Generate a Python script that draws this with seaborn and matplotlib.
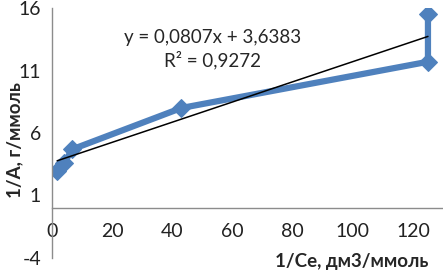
import numpy as np
import pandas as pd
import matplotlib
matplotlib.use("Agg")
import matplotlib.pyplot as plt
import seaborn as sns

# данные изотермы в координатах 1/A от 1/Ce
inv_ce = [1.7, 4.0, 6.8, 43.0, 125.0, 125.0]
inv_a = [3.0, 3.6, 4.7, 8.0, 11.7, 15.5]
slope = 0.0807
intercept = 3.6383
y_ticks = [-4, 1, 6, 11, 16]
x_ticks = [0, 20, 40, 60, 80, 100, 120]

sns.set_theme(style="white")
plt.rcParams["font.family"] = ["Lato", "DejaVu Sans"]
plt.rcParams["axes.unicode_minus"] = False

df = pd.DataFrame({"x": inv_ce, "y": inv_a})
trend_x = np.array([min(inv_ce), max(inv_ce)])
trend = pd.DataFrame({"x": trend_x, "y": slope * trend_x + intercept})

fig = plt.figure(figsize=(4.43, 2.74), dpi=100)
ax = fig.add_axes([52 / 443, 16 / 274, 391 / 443, 250 / 274])

sns.lineplot(data=df, x="x", y="y", sort=False, estimator=None, ax=ax,
             color="#4f81bd", linewidth=4.5, marker="D", markersize=9,
             markeredgecolor="#4f81bd")
sns.lineplot(data=trend, x="x", y="y", sort=False, estimator=None, ax=ax,
             color="black", linewidth=1.1)

ax.set_xlim(0, 130)
ax.set_ylim(-4, 16)
ax.set_xticks(x_ticks)
ax.set_yticks(y_ticks)
ax.tick_params(axis="both", labelsize=14, colors="#222222", length=5,
               width=1, direction="out")
ax.tick_params(axis="both", color="#8c8c8c")
ax.tick_params(axis="x", pad=6)
ax.tick_params(axis="y", pad=3)

for s in ["top", "right"]:
    ax.spines[s].set_visible(False)
ax.spines["bottom"].set_position(("data", 0))
for s in ["left", "bottom"]:
    ax.spines[s].set_color("#8c8c8c")
    ax.spines[s].set_linewidth(1)

ax.set_xlabel("1/Се, дм3/ммоль", fontsize=13.5, fontweight="bold")
ax.set_ylabel("1/A, г/ммоль", fontsize=13.5, fontweight="bold")
ax.xaxis.set_label_coords(0.767, -0.016)
ax.xaxis.label.set_va("center")
ax.yaxis.set_label_coords(-0.095, 0.47)
ax.yaxis.label.set_va("center")

ax.annotate("y = 0,0807x + 3,6383", xy=(213 / 443, 1 - 38 / 274),
            xycoords="figure fraction", ha="center", va="center", fontsize=13.5)
ax.annotate("R² = 0,9272", xy=(213 / 443, 1 - 60 / 274),
            xycoords="figure fraction", ha="center", va="center", fontsize=13.5)

fig.savefig("out.png", dpi=100)
